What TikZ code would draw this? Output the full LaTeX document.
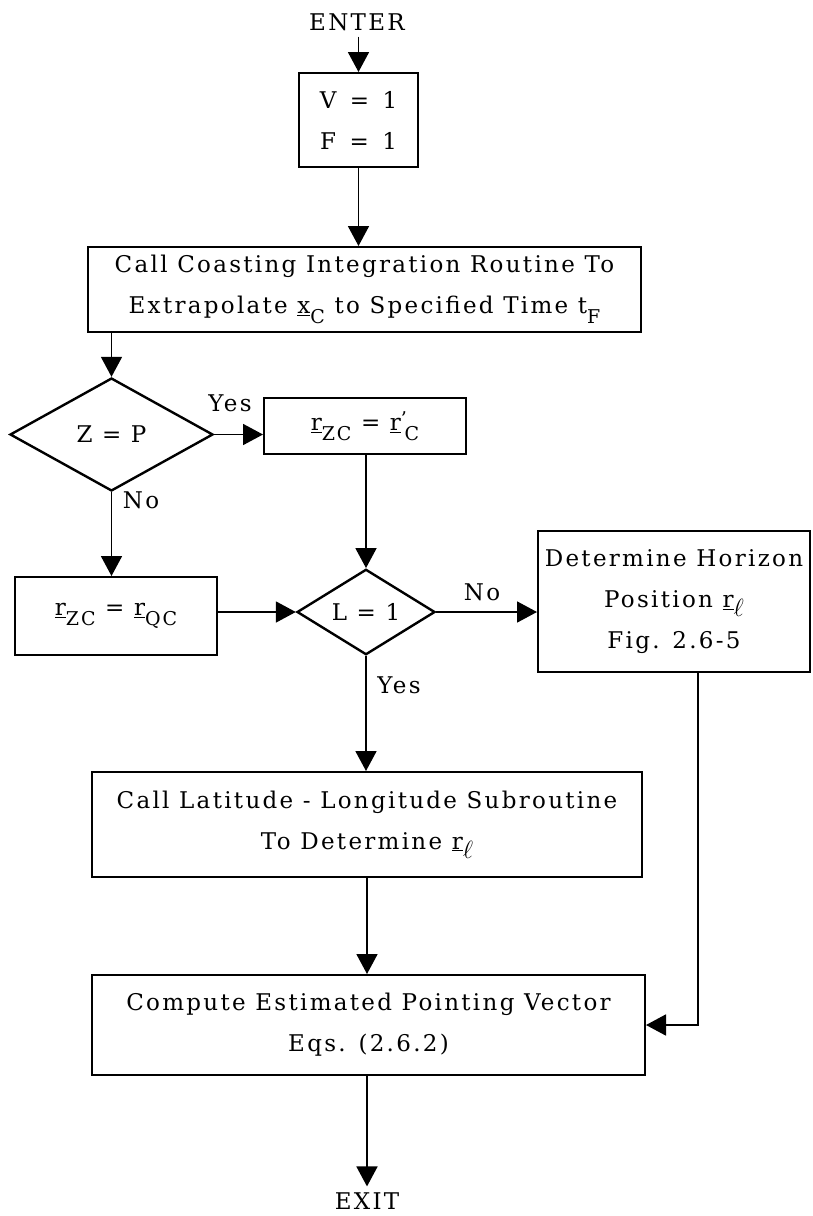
\documentclass[tikz,border=0pt]{standalone}
\usepackage{fontspec}
\setmainfont{DejaVu Serif}[LetterSpace=10]
\usetikzlibrary{arrows.meta,shapes.geometric,calc}

% underlined vector with a lowered subscript
\newcommand\uvar[2]{\underline{#1}\raisebox{-0.42em}{\fontsize{19}{19}\selectfont #2}}
\newcommand\plainsub[2]{#1\raisebox{-0.42em}{\fontsize{19}{19}\selectfont #2}}
\newcommand\ellsub{\underline{r}\raisebox{-0.4em}{\fontsize{27}{27}\selectfont$\ell$}}

\begin{document}
\begin{tikzpicture}[x=1pt,y=-1pt,
  font=\fontsize{23}{41}\selectfont,
  box/.style={draw, rectangle, line width=2pt, inner sep=0pt, align=center},
  decision/.style={draw, diamond, line width=2.4pt, inner sep=0pt},
  flow/.style={line width=1.8pt, -{Triangle[length=20pt,width=21pt]}},
  lbl/.style={inner sep=0pt}]
\useasboundingbox (0,0) rectangle (812,1216);

% terminals
\node[lbl] (enter) at (357,22) {ENTER};
\node[lbl] (exit) at (367,1201) {EXIT};

% process boxes
\node[box, minimum width=119pt, minimum height=94pt] (init) at (358.5,120)
  {V\,~=~\,1\\F\,~=~\,1};
\node[box, minimum width=553pt, minimum height=85pt] (coast) at (364.5,289.5)
  {Call Coasting Integration Routine To\\
   Extrapolate \uvar{x}{C} to Specified Time \plainsub{t}{F}};
\node[decision, minimum width=203pt, minimum height=113pt] (zp) at (111.5,434.5) {Z = P};
\node[box, minimum width=202pt, minimum height=56pt] (rc) at (365,426)
  {\uvar{r}{ZC} = \underline{r}\raisebox{0.25em}{\fontsize{19}{19}\selectfont '}\kern-0.1em\raisebox{-0.42em}{\fontsize{19}{19}\selectfont C}};
\node[box, minimum width=202pt, minimum height=78pt] (rq) at (116,616)
  {\uvar{r}{ZC} = \uvar{r}{QC}};
\node[decision, minimum width=138pt, minimum height=77pt] (lq) at (366,612) {L = 1};
\node[box, minimum width=272pt, minimum height=141pt] (det) at (674,601.5)
  {Determine Horizon\\Position \ellsub\\Fig. 2.6-5};
\node[box, minimum width=550pt, minimum height=105pt] (lat) at (367,824.5)
  {Call Latitude - Longitude Subroutine\\To Determine \ellsub};
\node[box, minimum width=553pt, minimum height=100pt] (comp) at (368.5,1025)
  {Compute Estimated Pointing Vector\\Eqs. (2.6.2)};

% branch labels
\node[lbl] (yes1) at (230,403) {Yes};
\node[lbl] (no1) at (141,500) {No};
\node[lbl] (no2) at (482,592) {No};
\node[lbl] (yes2) at (399,685) {Yes};

% connectors
\draw[flow, shorten <=6pt] (enter.south -| init.north) -- (init.north);
\draw[flow] (init.south) -- (init.south |- coast.north);
\draw[flow] (coast.south -| zp.north) -- (zp.north);
\draw[flow] (zp.east) -- (zp.east -| rc.west);
\draw[flow] (zp.south) -- (zp.south |- rq.north);
\draw[flow] (rc.south -| lq.north) -- (lq.north);
\draw[flow] (rq.east |- lq.west) -- (lq.west);
\draw[flow] (lq.east) -- (lq.east -| det.west);
\draw[flow] (lq.south) -- (lq.south |- lat.north);
\draw[flow] (lat.south) -- (lat.south |- comp.north);
\draw[flow] ($(det.south)+(24,0)$) |- (comp.east);
\draw[flow, shorten >=6pt] (exit.north |- comp.south) -- (exit.north);
\end{tikzpicture}
\end{document}
